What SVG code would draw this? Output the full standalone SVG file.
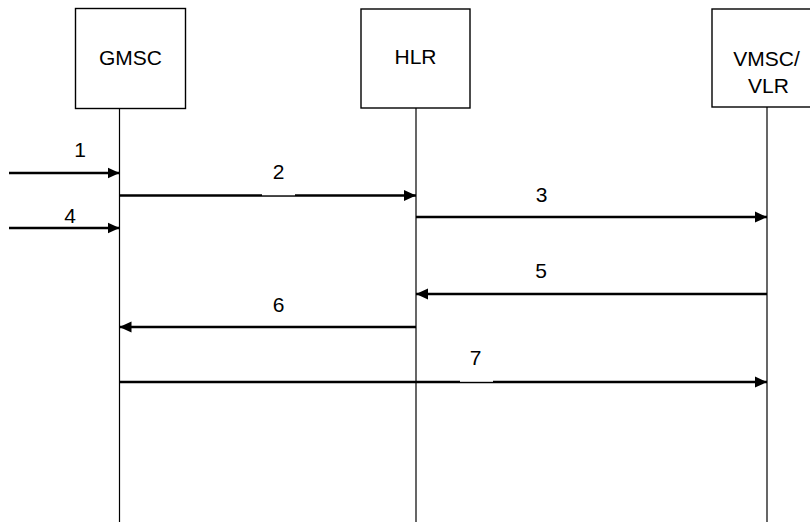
<svg xmlns="http://www.w3.org/2000/svg" width="810" height="522" viewBox="0 0 810 522">
<style>
.box{fill:#fff;stroke:#000;stroke-width:1.4}
.life{stroke:#000;stroke-width:1.2;fill:none}
.msg{stroke:#000;stroke-width:2.5;fill:none;marker-end:url(#ah)}
text{font-family:"Liberation Sans",Arial,sans-serif;font-size:21px;fill:#000;text-anchor:middle}
.gap{fill:#fff}
</style>
<defs>
<marker id="ah" markerUnits="userSpaceOnUse" markerWidth="12" markerHeight="12" viewBox="0 0 12 12" refX="12" refY="6" orient="auto">
<path d="M0,0.5 L12,6 L0,11.5 Z" fill="#000"/>
</marker>
</defs>
<g id="gmsc">
<rect class="box" x="75.5" y="8.5" width="110" height="100"/>
<text x="130.5" y="65">GMSC</text>
<line class="life" x1="119.5" y1="108.5" x2="119.5" y2="522"/>
</g>
<g id="hlr">
<rect class="box" x="361" y="9" width="109" height="99"/>
<text x="415.5" y="64">HLR</text>
<line class="life" x1="416" y1="108" x2="416" y2="522"/>
</g>
<g id="vmsc">
<rect class="box" x="712" y="9" width="100" height="98"/>
<text x="766.5" y="65.5">VMSC/</text>
<text x="768.5" y="93">VLR</text>
<line class="life" x1="767" y1="107" x2="767" y2="522"/>
</g>
<g id="connectors">
<line class="msg" x1="9" y1="173" x2="119.5" y2="173"/>
<text x="80" y="156.5">1</text>
<line class="msg" x1="119.5" y1="195.5" x2="416" y2="195.5"/>
<rect class="gap" x="262" y="193" width="33" height="2.3"/>
<text x="278.5" y="179">2</text>
<line class="msg" x1="9" y1="228" x2="119.5" y2="228"/>
<text x="70" y="222.5">4</text>
<line class="msg" x1="416" y1="217" x2="767" y2="217"/>
<text x="541.5" y="201.5">3</text>
<line class="msg" x1="767" y1="294" x2="416" y2="294"/>
<text x="541" y="277.5">5</text>
<line class="msg" x1="416" y1="327" x2="119.5" y2="327"/>
<text x="278.5" y="311.5">6</text>
<line class="msg" x1="119.5" y1="382" x2="767" y2="382"/>
<rect class="gap" x="460" y="379.5" width="33" height="2.3"/>
<text x="475.5" y="365">7</text>
</g>
</svg>
